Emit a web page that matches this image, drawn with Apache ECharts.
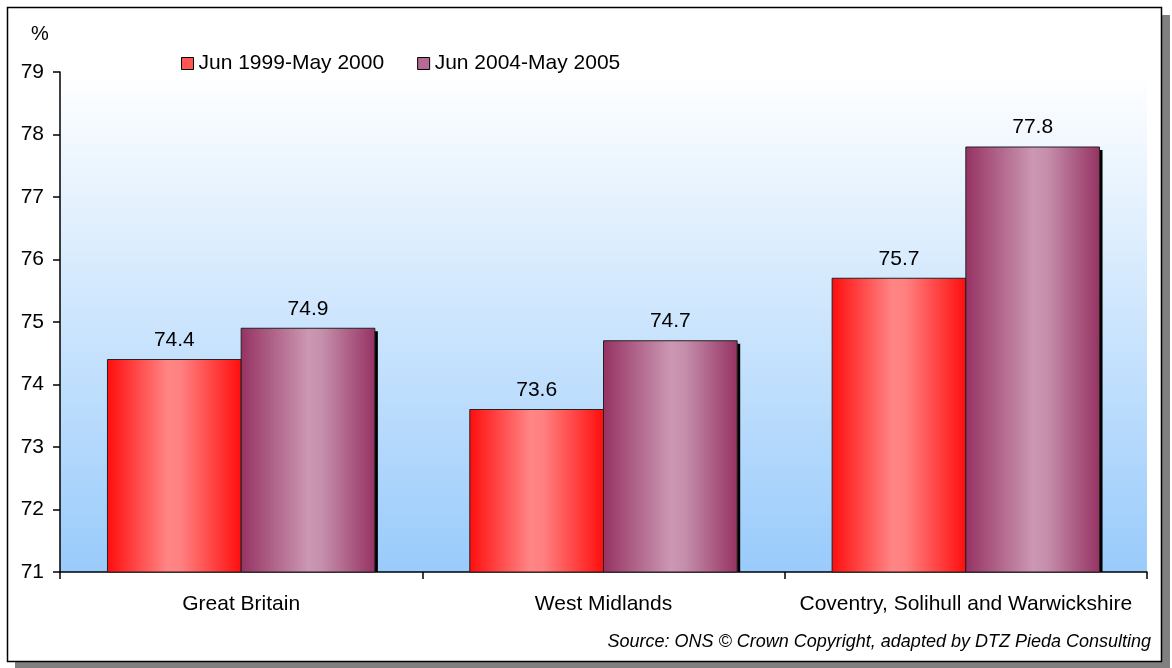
<!DOCTYPE html>
<html><head><meta charset="utf-8">
<script src="https://cdn.jsdelivr.net/npm/echarts@6/dist/echarts.min.js"></script>
<style>html,body{margin:0;padding:0;background:#fff}#c{width:1172px;height:668px}</style>
</head><body><div id="c"></div>
<script>
const categories = ['Great Britain', 'West Midlands', 'Coventry, Solihull and Warwickshire'];
const seriesNames = ['Jun 1999-May 2000', 'Jun 2004-May 2005'];
const values1999 = [74.4, 73.6, 75.7];
const values2004 = [74.9, 74.7, 77.8];
const yTicks = { min: 71, max: 79, interval: 1 };
const sourceNote = 'Source: ONS \u00A9 Crown Copyright, adapted by DTZ Pieda Consulting';

const font = 'Arial, "Liberation Sans", sans-serif';
function redGrad() { return new echarts.graphic.LinearGradient(0, 0, 1, 0, [
  {offset: 0, color: '#ff0d0d'}, {offset: 0.45, color: '#ff8585'}, {offset: 0.55, color: '#ff8080'}, {offset: 1, color: '#ff0d0d'}]); }
function purpGrad() { return new echarts.graphic.LinearGradient(0, 0, 1, 0, [
  {offset: 0, color: '#963262'}, {offset: 0.5, color: '#cb97b2'}, {offset: 0.6, color: '#c690ad'}, {offset: 1, color: '#963262'}]); }

function makeRender(seriesIdx, gradFn) {
  return function (params, api) {
    const cat = api.value(0), val = api.value(1);
    const top = api.coord([cat, val]);
    const base = api.coord([cat, yTicks.min]);
    const band = api.size([1, 0])[0];
    const w = band * 0.369;
    const x = seriesIdx === 0 ? top[0] - w : top[0];
    const h = base[1] - top[1];
    return {
      type: 'group',
      children: [
        {type: 'rect', shape: {x: x + 3, y: top[1] + 3, width: w, height: h - 3}, style: {fill: '#000'}},
        {type: 'rect', shape: {x: x, y: top[1], width: w, height: h}, style: {fill: gradFn(), stroke: '#222', lineWidth: 1}},
        {type: 'text', x: x + w / 2, y: top[1] - 9,
          style: {text: val.toFixed(1), font: '21px ' + font, fill: '#000', align: 'center', verticalAlign: 'bottom'}}
      ]
    };
  };
}

const chart = echarts.init(document.getElementById('c'));
chart.setOption({
  animation: false,
  backgroundColor: '#ffffff',
  graphic: [
    {type: 'rect', shape: {x: 15, y: 15, width: 1155, height: 653}, style: {fill: '#808080'}, z: -10},
    {type: 'rect', shape: {x: 7.5, y: 7.5, width: 1154, height: 654}, style: {fill: '#ffffff', stroke: '#000', lineWidth: 1.5}, z: -9},
    {type: 'text', left: 31, top: 24, style: {text: '%', font: '20px ' + font, fill: '#000'}},
    {type: 'text', right: 21, top: 633, style: {text: sourceNote, font: 'italic 18px ' + font, fill: '#000'}}
  ],
  legend: {
    left: 176, top: 48, itemWidth: 12, itemHeight: 12, itemGap: 33,
    icon: 'rect',
    textStyle: {fontSize: 21, fontFamily: font, color: '#000'},
    data: [
      {name: seriesNames[0], itemStyle: {color: '#ff5555', borderColor: '#000', borderWidth: 1}},
      {name: seriesNames[1], itemStyle: {color: '#b76a92', borderColor: '#000', borderWidth: 1}}
    ]
  },
  grid: {left: 60, right: 25, top: 72, bottom: 96, show: true, borderWidth: 0,
    backgroundColor: new echarts.graphic.LinearGradient(0, 0, 0, 1, [{offset: 0, color: '#ffffff'}, {offset: 1, color: '#99cbfb'}])},
  xAxis: {
    type: 'category', data: categories,
    axisLine: {lineStyle: {color: '#000', width: 1.5}},
    axisTick: {show: true, interval: 0, length: 7, lineStyle: {color: '#000', width: 1.5}},
    axisLabel: {interval: 0, fontSize: 21, fontFamily: font, color: '#000', margin: 22}
  },
  yAxis: {
    type: 'value', min: yTicks.min, max: yTicks.max, interval: yTicks.interval,
    axisLine: {show: true, lineStyle: {color: '#000', width: 1.5}},
    axisTick: {show: true, length: 7, lineStyle: {color: '#000', width: 1.5}},
    splitLine: {show: false},
    axisLabel: {fontSize: 21, fontFamily: font, color: '#000', margin: 16}
  },
  series: [
    {name: seriesNames[0], type: 'custom', renderItem: makeRender(0, redGrad),
      itemStyle: {color: '#ff5555'}, encode: {x: 0, y: 1},
      data: values1999.map((v, i) => [i, v])},
    {name: seriesNames[1], type: 'custom', renderItem: makeRender(1, purpGrad),
      itemStyle: {color: '#b76a92'}, encode: {x: 0, y: 1},
      data: values2004.map((v, i) => [i, v])}
  ]
});
</script></body></html>
